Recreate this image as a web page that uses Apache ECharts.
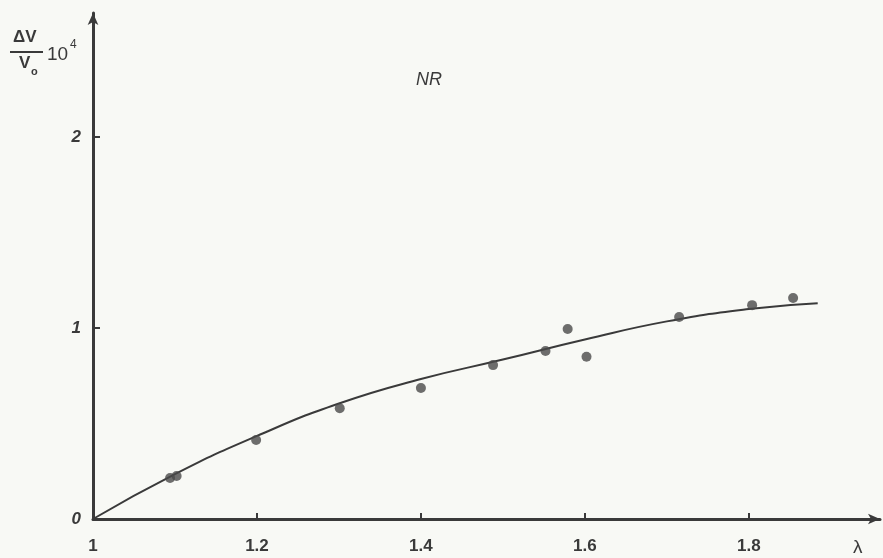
<!DOCTYPE html>
<html>
<head>
<meta charset="utf-8">
<script src="https://cdn.jsdelivr.net/npm/echarts@6/dist/echarts.min.js"></script>
<style>
  html, body { margin: 0; padding: 0; background: #f8f9f5; }
  #chart { width: 883px; height: 558px; }
</style>
</head>
<body>
<div id="chart"></div>
<script>
// measured points (lambda, dV/V0 * 10^4)
const pointX = [1.094, 1.102, 1.199, 1.301, 1.400, 1.488, 1.552, 1.579, 1.602, 1.715, 1.804, 1.854];
const pointY = [0.215, 0.225, 0.414, 0.580, 0.686, 0.806, 0.880, 0.995, 0.850, 1.058, 1.120, 1.157];

// hand-drawn fitted curve
const curveX = [1.0, 1.1, 1.2, 1.3, 1.4, 1.5, 1.6, 1.7, 1.8, 1.884];
const curveY = [0.0, 0.235, 0.435, 0.605, 0.733, 0.835, 0.94, 1.035, 1.1, 1.13];

const xTicks = [1, 1.2, 1.4, 1.6, 1.8];
const yTicks = [0, 1, 2];

const ink = '#3a3a3a';
const font = 'Liberation Sans';

const chart = echarts.init(document.getElementById('chart'));

const option = {
  backgroundColor: '#f8f9f5',
  animation: false,
  grid: { left: 93, right: 3, top: 13, bottom: 39 },
  xAxis: {
    type: 'value',
    min: 1,
    max: 1.96,
    interval: 0.2,
    axisLine: {
      show: true,
      symbol: ['none', 'arrow'],
      symbolSize: [8, 12],
      lineStyle: { color: ink, width: 3 }
    },
    axisTick: { show: true, inside: true, length: 6, lineStyle: { color: ink, width: 2 } },
    splitLine: { show: false },
    axisLabel: {
      showMaxLabel: false,
      margin: 19,
      color: ink,
      fontFamily: font,
      fontWeight: 'bold',
      fontSize: 17,
      formatter: v => xTicks.includes(+v.toFixed(1)) ? String(+v.toFixed(1)) : ''
    }
  },
  yAxis: {
    type: 'value',
    min: 0,
    max: 2.65,
    interval: 1,
    axisLine: {
      show: true,
      symbol: ['none', 'arrow'],
      symbolSize: [8, 12],
      lineStyle: { color: ink, width: 3 }
    },
    axisTick: { show: true, inside: true, length: 7, lineStyle: { color: ink, width: 2 } },
    splitLine: { show: false },
    axisLabel: {
      showMaxLabel: false,
      margin: 12,
      color: ink,
      fontFamily: font,
      fontWeight: 'bold',
      fontSize: 17,
      fontStyle: 'italic',
      formatter: v => yTicks.includes(v) ? String(v) : ''
    }
  },
  graphic: [
    { type: 'text', left: 416, top: 71, style: { text: 'NR', fontFamily: font, fontSize: 18, fontStyle: 'italic', fill: ink } },
    { type: 'text', left: 13, top: 29, style: { text: 'ΔV', fontFamily: font, fontSize: 17, fontWeight: 'bold', fill: ink } },
    { type: 'line', shape: { x1: 10, y1: 52, x2: 43, y2: 52 }, style: { stroke: ink, lineWidth: 2 } },
    { type: 'text', left: 19, top: 55, style: { text: 'V', fontFamily: font, fontSize: 17, fontWeight: 'bold', fill: ink } },
    { type: 'text', left: 31, top: 66, style: { text: 'o', fontFamily: font, fontSize: 11, fontWeight: 'bold', fill: ink } },
    { type: 'text', left: 47, top: 45, style: { text: '10', fontFamily: font, fontSize: 19, fill: ink } },
    { type: 'text', left: 70, top: 39, style: { text: '4', fontFamily: font, fontSize: 12, fill: ink } },
    { type: 'text', left: 853, top: 538, style: { text: 'λ', fontFamily: font, fontSize: 19, fill: ink } }
  ],
  series: [
    {
      type: 'line',
      data: curveX.map((x, i) => [x, curveY[i]]),
      smooth: 0.5,
      showSymbol: false,
      lineStyle: { color: ink, width: 2 },
      z: 2
    },
    {
      type: 'scatter',
      data: pointX.map((x, i) => [x, pointY[i]]),
      symbolSize: 10,
      itemStyle: { color: '#4a4a4a' },
      z: 3
    }
  ]
};

chart.setOption(option);
</script>
</body>
</html>
